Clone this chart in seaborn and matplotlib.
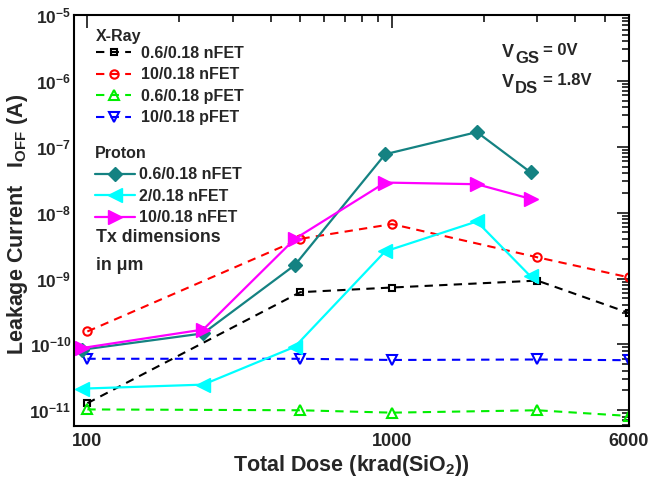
import numpy as np
import pandas as pd
import matplotlib
matplotlib.use("Agg")
import matplotlib.pyplot as plt
import matplotlib.ticker as mticker
import seaborn as sns

# ---------------- data ----------------
xray_dose = [100, 500, 1000, 3000, 6000]
xray_06n = [1.28e-11, 6.2e-10, 7.3e-10, 9.3e-10, 3.0e-10]
xray_10n = [1.57e-10, 4.0e-9, 6.7e-9, 2.1e-9, 1.04e-9]
xray_06p = [1.03e-11, 1.0e-11, 9.2e-12, 1.0e-11, 8.2e-12]
xray_10p = [6.05e-11, 6.05e-11, 5.8e-11, 5.9e-11, 5.75e-11]

proton_dose = [96, 240, 480, 950, 1900, 2850]
proton_06n = [8.3e-11, 1.47e-10, 1.6e-9, 7.7e-8, 1.67e-7, 4.1e-8]
proton_2n = [2.13e-11, 2.45e-11, 9.2e-11, 2.58e-9, 7.35e-9, 1.08e-9]
proton_10n = [8.8e-11, 1.68e-10, 4.0e-9, 2.86e-8, 2.7e-8, 1.62e-8]

xray_labels = ["0.6/0.18 nFET", "10/0.18 nFET", "0.6/0.18 pFET", "10/0.18 pFET"]
proton_labels = ["0.6/0.18 nFET", "2/0.18 nFET", "10/0.18 nFET"]
x_ticks = [100, 1000, 6000]
x_tick_labels = ["100", "1000", "6000"]
y_decades = [-11, -10, -9, -8, -7, -6, -5]

# ---------------- style ----------------
sns.set_style("white")
plt.rcParams["font.family"] = ["Liberation Sans", "DejaVu Sans"]
plt.rcParams["font.weight"] = "bold"
plt.rcParams["mathtext.fontset"] = "custom"
plt.rcParams["mathtext.rm"] = "Liberation Sans:bold"
plt.rcParams["mathtext.bf"] = "Liberation Sans:bold"
plt.rcParams["mathtext.it"] = "Liberation Sans:bold"

W, H = 653, 480
fig = plt.figure(figsize=(W / 100, H / 100), dpi=100)
L, R, T, B = 74, 629, 15, 426
ax = fig.add_axes([L / W, 1 - B / H, (R - L) / W, (B - T) / H])

dash = (0, (4, 3))
xray_styles = [
    ("black", "s", 5.0),
    ("#ff0000", "o", 6.0),
    ("#00ee00", "^", 7.0),
    ("#0000ff", "v", 7.0),
]
proton_styles = [
    ("#148282", "D", 7.0),
    ("#00ffff", "<", 9.5),
    ("#ff00ff", ">", 9.5),
]

for vals, lab, (c, m, ms) in zip([xray_06n, xray_10n, xray_06p, xray_10p], xray_labels, xray_styles):
    df = pd.DataFrame({"dose": xray_dose, "ioff": vals})
    sns.lineplot(data=df, x="dose", y="ioff", ax=ax, color=c, linestyle=dash, linewidth=1.5,
                 marker=m, markersize=ms, markerfacecolor="none", markeredgecolor=c,
                 markeredgewidth=1.5, label=lab, estimator=None, sort=False)

for vals, lab, (c, m, ms) in zip([proton_06n, proton_2n, proton_10n], proton_labels, proton_styles):
    df = pd.DataFrame({"dose": proton_dose, "ioff": vals})
    sns.lineplot(data=df, x="dose", y="ioff", ax=ax, color=c, linestyle="-", linewidth=1.6,
                 marker=m, markersize=ms, markerfacecolor=c, markeredgecolor=c,
                 markeredgewidth=1.0, label=lab, estimator=None, sort=False)

ax.set_xscale("log")
ax.set_yscale("log")
ax.set_xlim(90.4, 6000)
ax.set_ylim(5.77e-12, 1e-5)

ax.xaxis.set_major_locator(mticker.FixedLocator(x_ticks))
ax.xaxis.set_major_formatter(mticker.FixedFormatter(x_tick_labels))
ax.xaxis.set_minor_locator(mticker.FixedLocator([200, 300, 400, 500, 600, 700, 800, 900,
                                                 2000, 3000, 4000, 5000]))
ax.xaxis.set_minor_formatter(mticker.NullFormatter())

yt = [10.0 ** d for d in y_decades]
ax.yaxis.set_major_locator(mticker.FixedLocator(yt))
ax.yaxis.set_major_formatter(mticker.FixedFormatter([r"$\mathbf{10^{%d}}$" % d for d in y_decades]))
ax.yaxis.set_minor_locator(mticker.LogLocator(base=10, subs=np.arange(2, 10), numticks=30))
ax.yaxis.set_minor_formatter(mticker.NullFormatter())

ax.tick_params(which="both", direction="in", top=True, right=True, width=1.1, color="black")
ax.tick_params(which="major", length=9)
ax.tick_params(which="minor", length=5)
ax.tick_params(axis="y", which="major", labelsize=12.5, pad=2)
ax.tick_params(axis="x", which="major", labelsize=13, pad=5)
for lbl in ax.get_xticklabels() + ax.get_yticklabels():
    lbl.set_fontweight("bold")

for s in ax.spines.values():
    s.set_linewidth(1.5)
    s.set_color("black")
ax.grid(False)

ax.set_xlabel(r"Total Dose (krad(SiO$_\mathbf{2}$))", fontsize=15.5, fontweight="bold", labelpad=2)
ax.set_ylabel(r"Leakage Current   I$_\mathbf{OFF}$ (A)", fontsize=15.5, fontweight="bold")
ax.yaxis.set_label_coords((30.5 - L) / (R - L), 0.49)

# ---------------- legends ----------------
handles, labels = ax.get_legend_handles_labels()
fp = {"weight": "bold", "size": 11.5}
leg1 = ax.legend(handles[:4], labels[:4], loc="upper left",
                 bbox_to_anchor=((96 - L) / (R - L), 1 - (46 - T) / (B - T)),
                 frameon=False, prop=fp,
                 borderpad=0, borderaxespad=0, handlelength=2.2, handletextpad=0.6,
                 labelspacing=0.4, numpoints=1)
ax.add_artist(leg1)
leg2 = ax.legend(handles[4:], labels[4:], title="Proton", loc="upper left",
                 bbox_to_anchor=((95 - L) / (R - L), 1 - (146 - T) / (B - T)),
                 frameon=False, prop=fp, title_fontproperties=fp, alignment="left",
                 borderpad=0, borderaxespad=0, handlelength=2.5, handletextpad=0.25,
                 labelspacing=0.4, numpoints=1)


def fx(px):
    return px / W


def fy(py):
    return 1 - py / H


fig.text(fx(96), fy(37), "X-Ray", fontsize=11.5, fontweight="bold", va="center", ha="left")
fig.text(fx(96), fy(238), "Tx dimensions", fontsize=12.8, fontweight="bold", va="center", ha="left")
fig.text(fx(96), fy(266), "in μm", fontsize=12.8, fontweight="bold", va="center", ha="left")

# V_GS / V_DS annotations
fig.text(fx(502), fy(57), "V", fontsize=13, fontweight="bold", va="baseline", ha="left")
fig.text(fx(515), fy(63), "GS", fontsize=12, fontweight="bold", va="baseline", ha="left")
fig.text(fx(543), fy(55), "= 0V", fontsize=12, fontweight="bold", va="baseline", ha="left")
fig.text(fx(502), fy(87), "V", fontsize=13, fontweight="bold", va="baseline", ha="left")
fig.text(fx(515), fy(93), "DS", fontsize=12, fontweight="bold", va="baseline", ha="left")
fig.text(fx(543), fy(85), "= 1.8V", fontsize=12, fontweight="bold", va="baseline", ha="left")

fig.savefig("out.png", dpi=100)
